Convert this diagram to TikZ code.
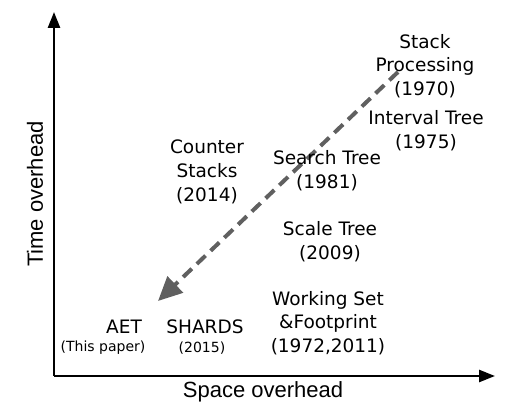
\documentclass[tikz,border=0pt]{standalone}
\usepackage{fontspec}
\setmainfont{Liberation Sans}
\newfontfamily\comicfont{DejaVu Sans}
\usetikzlibrary{arrows.meta}
\begin{document}
\begin{tikzpicture}[x=1pt,y=-1pt,
  axis/.style={line width=2.6pt,-{Triangle[length=16pt,width=12pt]}},
  trend/.style={draw=gray!75!black,line width=4pt,dash pattern=on 12pt off 7pt,-{Triangle[length=24pt,width=22pt,fill=gray!75!black]}},
  lbl/.style={font=\comicfont\fontsize{18.5}{23.8}\selectfont,align=center,inner sep=0pt},
  small/.style={font=\comicfont\fontsize{14}{20}\selectfont,align=center,inner sep=0pt},
  axlbl/.style={font=\fontsize{22}{26}\selectfont,inner sep=0pt}]
\useasboundingbox (0,0) rectangle (525,419);
\coordinate (o) at (54,376);
\coordinate (ytop) at (54,12);
\coordinate (xend) at (495,376);
\draw[axis] (o) -- (ytop);
\draw[axis] (o) -- (xend);
\node[axlbl] (xl) at (263,392) {Space overhead};
\node[axlbl,rotate=90] (yl) at (35,194) {Time overhead};
\coordinate (ts) at (398,72);
\coordinate (te) at (158,301);
\draw[trend] (ts) -- (te);
\node[lbl] (sp) at (425,66) {Stack\\Processing\\(1970)};
\node[lbl] (it) at (426,130.5) {Interval Tree\\(1975)};
\node[lbl] (cs) at (207,172) {Counter\\Stacks\\(2014)};
\node[lbl] (st) at (327,171) {Search Tree\\(1981)};
\node[lbl] (sc) at (330,242) {Scale Tree\\(2009)};
\node[lbl] (ws) at (328,323) {Working Set\\\&Footprint\\(1972,2011)};
\node[lbl] (aet) at (124,327) {AET};
\node[small] (tp) at (103,348) {(This paper)};
\node[lbl] (sh) at (205,327) {SHARDS};
\node[small] (y15) at (202,348) {(2015)};
\end{tikzpicture}
\end{document}
